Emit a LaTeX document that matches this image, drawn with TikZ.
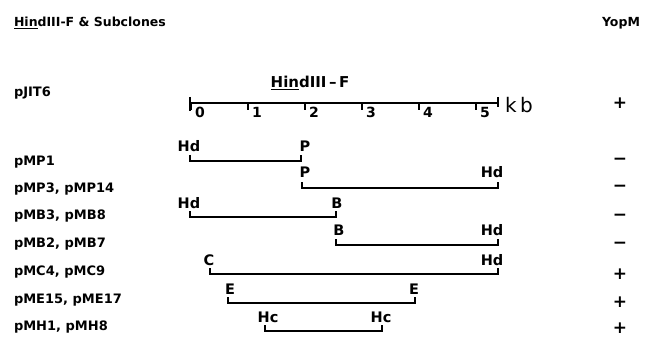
\documentclass[tikz,border=0pt]{standalone}
\usepackage{fontspec}
\setmainfont{DejaVu Sans}
\usetikzlibrary{calc}
\begin{document}
\begin{tikzpicture}[x=1pt,y=-1pt,
  every node/.style={inner sep=0pt,outer sep=0pt},
  txt/.style={font=\bfseries\fontsize{13}{15}\selectfont},
  rowlbl/.style={txt,anchor=base west},
  site/.style={font=\bfseries\fontsize{14.5}{16}\selectfont,anchor=base},
  sgn/.style={font=\bfseries\fontsize{17}{19}\selectfont},
  bar/.style={line width=1.9pt},
  tick/.style={line width=1.5pt}]
\useasboundingbox (0,0) rectangle (647,339);

% headings
\node[anchor=base west,font=\bfseries\fontsize{12.5}{14}\selectfont] (head) at (14,27)
  {\underline{Hin}dIII-F \& Subclones};
\node[anchor=base,font=\bfseries\fontsize{12.5}{14}\selectfont] (yopm) at (621,27) {YopM};

% HindIII-F scale bar (0 to 5.37 kb)
\node[anchor=base,font=\bfseries\fontsize{15}{17}\selectfont] (hf) at (310,88) {\underline{Hin}dIII\,--\,F};
\coordinate (sL) at (190,103);
\coordinate (sR) at (498,103);
\draw[bar] (sL) -- (sR);
\draw[tick] ($(sL)+(0,-6)$) -- ($(sL)+(0,8)$);
\draw[tick] ($(sR)+(0,-6)$) -- ($(sR)+(0,4)$);
\foreach \k in {0,...,5}{
  \coordinate (t\k) at ({191+57*\k},103);
  \draw[tick] (t\k) -- ++(0,7);
  \node[txt,font=\bfseries\fontsize{14}{16}\selectfont,anchor=base west] (n\k) at ($(t\k)+(4,15)$) {\k};
}
\node[anchor=base,font=\fontsize{20}{22}\selectfont] (kb) at (519,113) {k\,b};

% clone names
\node[rowlbl] (r0) at (14,97) {pJIT6};
\node[rowlbl] (r1) at (14,165) {pMP1};
\node[rowlbl] (r2) at (14,192) {pMP3, pMP14};
\node[rowlbl] (r3) at (14,219) {pMB3, pMB8};
\node[rowlbl] (r4) at (14,247) {pMB2, pMB7};
\node[rowlbl] (r5) at (14,275) {pMC4, pMC9};
\node[rowlbl] (r6) at (14,303) {pME15, pME17};
\node[rowlbl] (r7) at (14,330) {pMH1, pMH8};

% subclone fragments: left end, right end
\coordinate (a1) at (190,161); \coordinate (b1) at (301,161);
\coordinate (a2) at (302,188); \coordinate (b2) at (498,188);
\coordinate (a3) at (190,217); \coordinate (b3) at (336,217);
\coordinate (a4) at (336,245); \coordinate (b4) at (498,245);
\coordinate (a5) at (210,274); \coordinate (b5) at (498,274);
\coordinate (a6) at (228,303); \coordinate (b6) at (415,303);
\coordinate (a7) at (265,331); \coordinate (b7) at (382,331);
\foreach \i in {1,...,7}{
  \draw[bar] ($(a\i)+(0,-6)$) -- (a\i) -- (b\i) -- ($(b\i)+(0,-6)$);
}

% restriction sites
\node[site] (la1) at ($(a1)+(-1,-9)$) {Hd};
\node[site] (lb1) at ($(b1)+(4,-9)$) {P};
\node[site] (la2) at ($(a2)+(3,-10)$) {P};
\node[site] (lb2) at ($(b2)+(-6,-10)$) {Hd};
\node[site] (la3) at ($(a3)+(-1,-9)$) {Hd};
\node[site] (lb3) at ($(b3)+(1,-9)$) {B};
\node[site] (la4) at ($(a4)+(3,-10)$) {B};
\node[site] (lb4) at ($(b4)+(-6,-10)$) {Hd};
\node[site] (la5) at ($(a5)+(-1,-9)$) {C};
\node[site] (lb5) at ($(b5)+(-6,-9)$) {Hd};
\node[site] (la6) at ($(a6)+(2,-9)$) {E};
\node[site] (lb6) at ($(b6)+(-1,-9)$) {E};
\node[site] (la7) at ($(a7)+(3,-9)$) {Hc};
\node[site] (lb7) at ($(b7)+(-1,-9)$) {Hc};

% YopM production
\node[sgn] (y0) at (620,103) {+};
\node[sgn] (y1) at (620,161) {−};
\node[sgn] (y2) at (620,188) {−};
\node[sgn] (y3) at (620,217) {−};
\node[sgn] (y4) at (620,245) {−};
\node[sgn] (y5) at (620,274) {+};
\node[sgn] (y6) at (620,302) {+};
\node[sgn] (y7) at (620,328) {+};
\end{tikzpicture}
\end{document}
